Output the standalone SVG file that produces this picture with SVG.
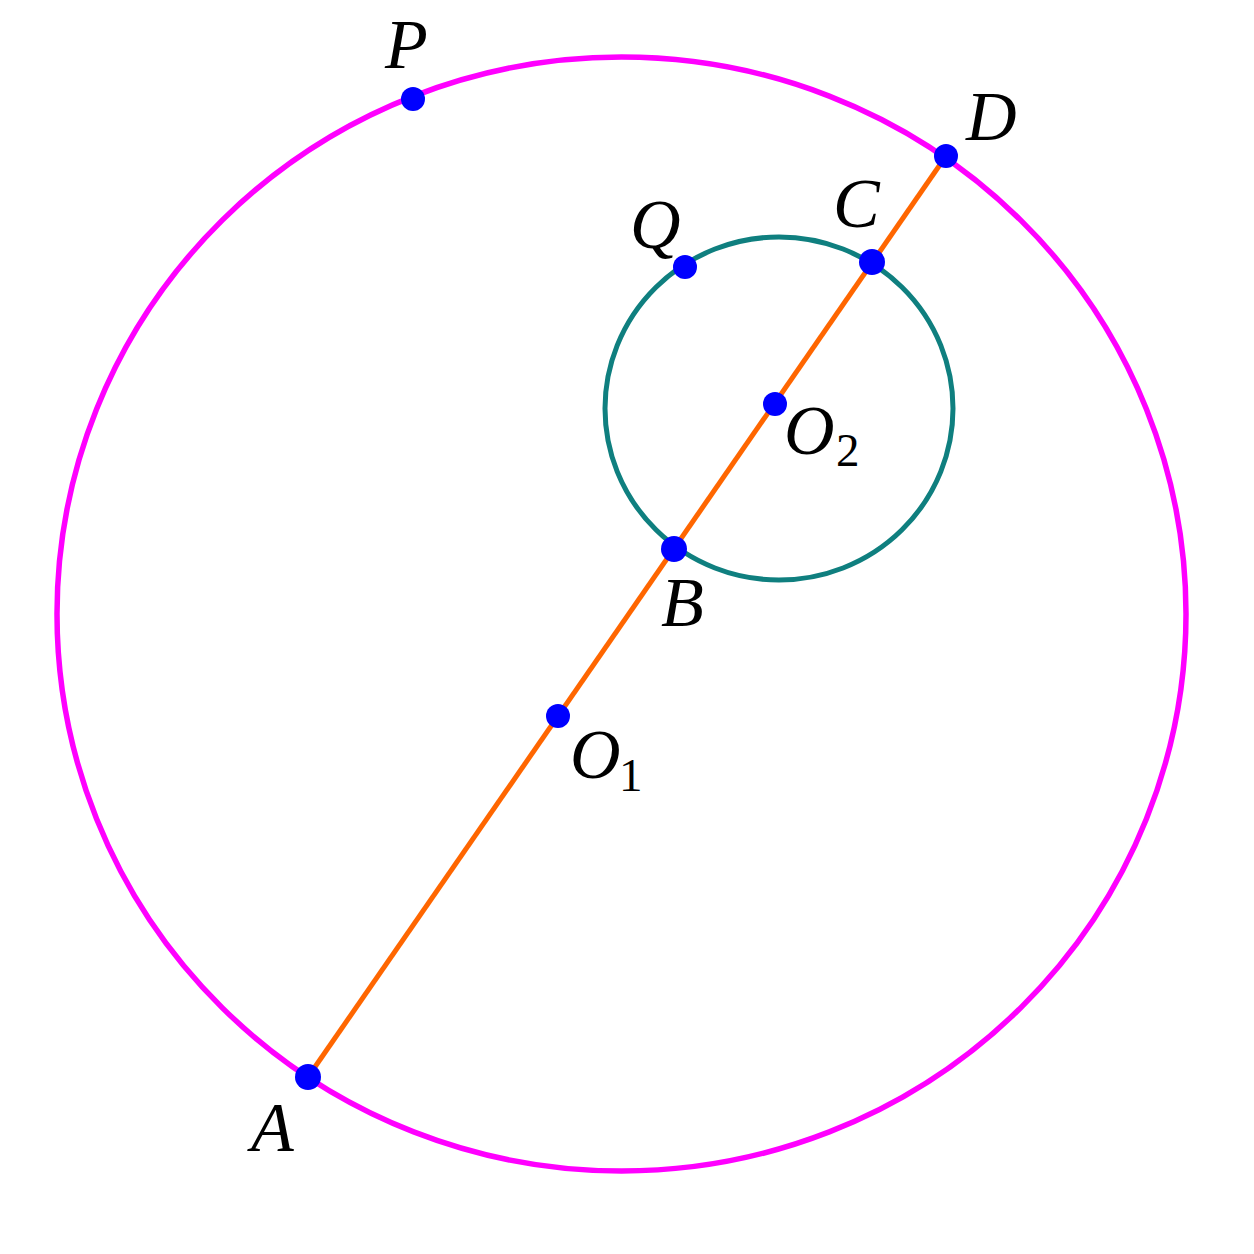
<svg xmlns="http://www.w3.org/2000/svg" width="1254" height="1254" viewBox="0 0 1254 1254">
<style>
.lbl{font-family:"Liberation Serif","DejaVu Serif",serif;font-style:italic;font-size:70px;fill:#000}
.sub{font-family:"Liberation Serif","DejaVu Serif",serif;font-size:47px;fill:#000}
.pt{fill:#0000ff}
</style>
<rect width="1254" height="1254" fill="#ffffff"/>
<g id="circle-O1"><ellipse cx="621.5" cy="614" rx="564.5" ry="557" fill="none" stroke="#ff00ff" stroke-width="5.5"/></g>
<g id="circle-O2"><ellipse cx="779" cy="408.5" rx="174" ry="171.5" fill="none" stroke="#0f7f7f" stroke-width="5"/></g>
<g id="connectors"><line x1="308" y1="1077" x2="946" y2="156" stroke="#ff6600" stroke-width="5"/></g>
<g id="P"><circle class="pt" cx="413" cy="99" r="12"/><text class="lbl" x="385" y="68">P</text></g>
<g id="D"><circle class="pt" cx="946" cy="156" r="12"/><text class="lbl" x="966" y="140">D</text></g>
<g id="C"><circle class="pt" cx="872" cy="262" r="13"/><text class="lbl" x="833" y="227">C</text></g>
<g id="Q"><circle class="pt" cx="685" cy="267" r="12"/><text class="lbl" x="630" y="248">Q</text></g>
<g id="O2"><circle class="pt" cx="775" cy="404" r="12"/><text class="lbl" x="784" y="454">O</text><text class="sub" x="836" y="466">2</text></g>
<g id="B"><circle class="pt" cx="674" cy="549" r="13"/><text class="lbl" x="661" y="626">B</text></g>
<g id="O1"><circle class="pt" cx="558" cy="716" r="12"/><text class="lbl" x="570" y="778">O</text><text class="sub" x="619" y="791">1</text></g>
<g id="A"><circle class="pt" cx="308" cy="1077" r="13"/><text class="lbl" x="251" y="1151">A</text></g>
</svg>
